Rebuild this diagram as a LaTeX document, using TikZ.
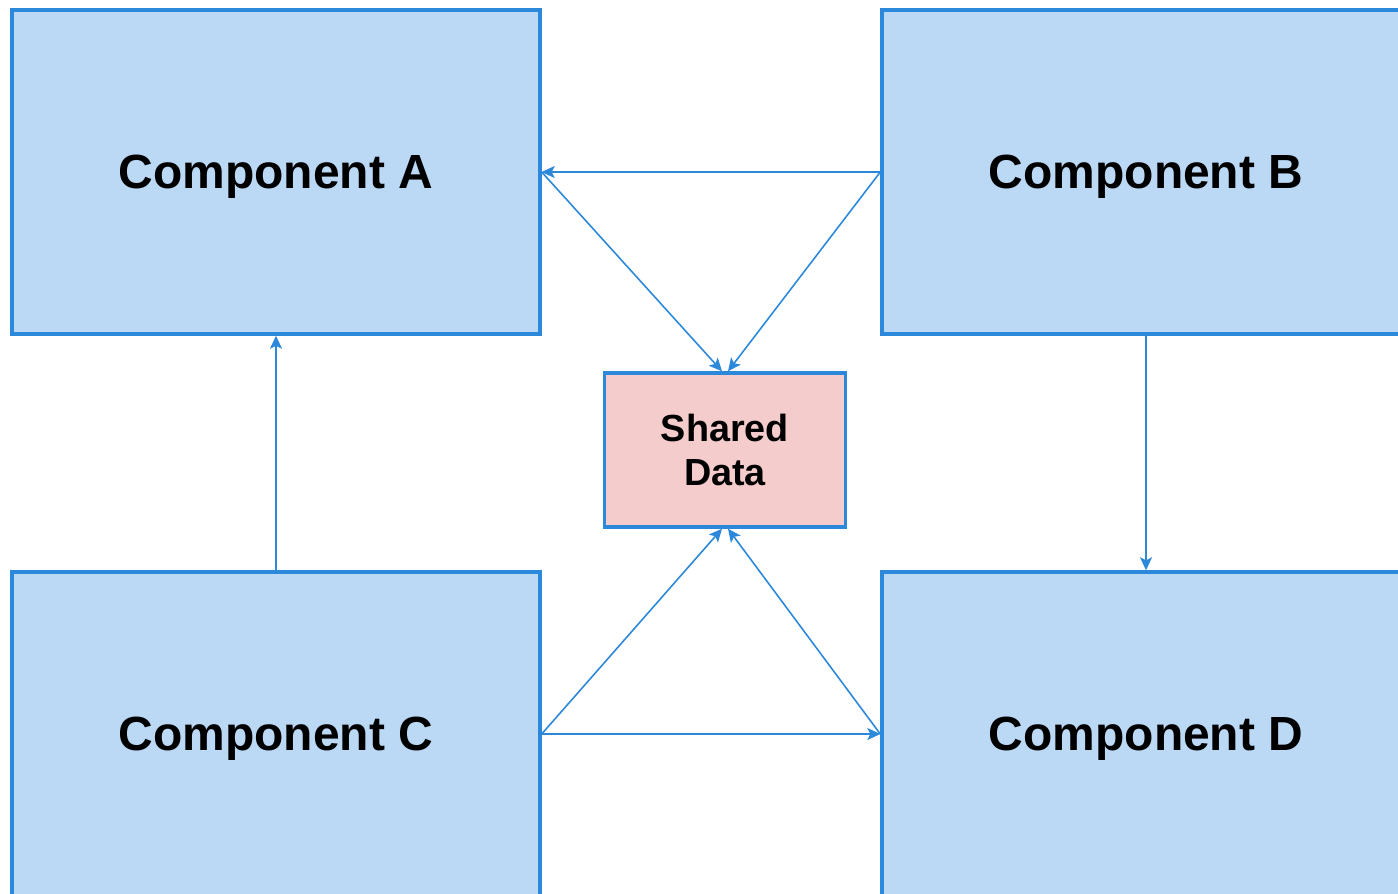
\documentclass[tikz,border=0pt]{standalone}
\usepackage{fontspec}
\setmainfont{Liberation Sans}
\usetikzlibrary{arrows.meta}
\definecolor{compfill}{HTML}{BBD8F5}
\definecolor{compline}{HTML}{2B88DA}
\definecolor{datafill}{HTML}{F4CCCC}
\tikzset{
  comp/.style={draw=compline, fill=compfill, line width=2pt, minimum width=10.56cm, minimum height=6.48cm, font=\bfseries\fontsize{27.3}{32}\selectfont, text depth=0pt, inner sep=0pt},
  shared/.style={draw=compline, fill=datafill, line width=2pt, minimum width=4.82cm, minimum height=3.08cm, font=\bfseries\fontsize{21.5}{25}\selectfont, align=center, inner sep=0pt},
  link/.style={draw=compline, line width=0.9pt, -{Stealth[length=0.26cm,width=0.24cm,inset=0.06cm]}}
}
\begin{document}
\begin{tikzpicture}[x=0.02cm, y=-0.02cm]

\useasboundingbox (0,0) rectangle (1398,893);
\begin{scope}
\clip (0,0) rectangle (1398,893);

\node[comp] (compA) at (276,172) {Component A};
\node[comp] (compB) at (1146,172) {Component B};
\node[comp] (compC) at (276,734) {Component C};
\node[comp] (compD) at (1146,734) {Component D};
\node[shared] (data) at (725,450) {Shared\\Data};

\draw[link] (compB.west) -- (compA.east);
\draw[link] (compA.east) -- ([xshift=-0.06cm]data.north);
\draw[link] (compB.west) -- ([xshift=0.06cm]data.north);
\draw[link] (compC.east) -- ([xshift=-0.06cm]data.south);
\draw[link] (compD.west) -- ([xshift=0.06cm]data.south);
\draw[link] (compC.east) -- (compD.west);
\draw[link] (compC.north) -- (compA.south);
\draw[link] (compB.south) -- (compD.north);

\end{scope}
\end{tikzpicture}
\end{document}
